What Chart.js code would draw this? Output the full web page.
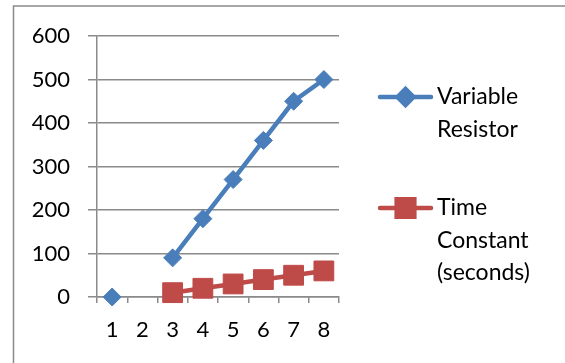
<!DOCTYPE html>
<html>
<head>
<meta charset="utf-8">
<script src="https://cdn.jsdelivr.net/npm/chart.js@4/dist/chart.umd.min.js"></script>
<style>
  html, body { margin: 0; padding: 0; background: #fff; }
  #wrap { width: 565px; height: 363px; position: relative; }
</style>
</head>
<body>
<div id="wrap"><canvas id="c"></canvas></div>
<script>
// Trial numbers and the two measured series
const categories = ['1', '2', '3', '4', '5', '6', '7', '8'];
const resistorValues = [0, null, 90, 180, 270, 360, 450, 500];
const timeConstantValues = [null, null, 10, 20, 30, 40, 50, 60];
const yTickValues = [0, 100, 200, 300, 400, 500, 600];
const resistorLabel = ['Variable', 'Resistor'];
const timeConstantLabel = ['Time', 'Constant', '(seconds)'];

const FONT = 'Lato, "Open Sans", sans-serif';
const GRID = '#8a8a8a';
const BLUE = '#4a7ebb';
const RED = '#be4b48';

// Outer frame (left and top edges only)
const framePlugin = {
  id: 'frame',
  beforeDraw(chart) {
    const ctx = chart.ctx;
    ctx.save();
    ctx.strokeStyle = GRID;
    ctx.lineWidth = 1.5;
    ctx.beginPath();
    ctx.moveTo(13.5, chart.height);
    ctx.lineTo(13.5, 6);
    ctx.lineTo(chart.width, 6);
    ctx.stroke();
    ctx.restore();
  }
};

// Legend with wrapped, multi-line entries on the right side
const sideLegendPlugin = {
  id: 'sideLegend',
  afterDraw(chart) {
    const ctx = chart.ctx;
    const rows = [97, 208];
    const lineGap = 32.5;
    ctx.save();
    chart.data.datasets.forEach((ds, i) => {
      const y = rows[i];
      ctx.strokeStyle = ds.borderColor;
      ctx.lineWidth = ds.borderWidth;
      ctx.lineCap = 'round';
      ctx.beginPath();
      ctx.moveTo(380, y);
      ctx.lineTo(431, y);
      ctx.stroke();
      ctx.fillStyle = ds.pointBackgroundColor;
      ctx.strokeStyle = ds.pointBorderColor;
      const opts = { pointStyle: ds.pointStyle, radius: ds.legendRadius, rotation: 0, borderWidth: 1 };
      if (Chart.helpers && Chart.helpers.drawPoint) {
        Chart.helpers.drawPoint(ctx, opts, 405.5, y);
      }
      ctx.fillStyle = '#000';
      ctx.font = '23px ' + FONT;
      ctx.textBaseline = 'middle';
      ctx.textAlign = 'left';
      ds.legendLines.forEach((t, k) => ctx.fillText(t, 437, y + k * lineGap));
    });
    ctx.restore();
  }
};

new Chart(document.getElementById('c'), {
  type: 'line',
  data: {
    labels: categories,
    datasets: [
      {
        label: resistorLabel.join(' '),
        legendLines: resistorLabel,
        data: resistorValues,
        borderColor: BLUE,
        backgroundColor: BLUE,
        pointBackgroundColor: BLUE,
        pointBorderColor: BLUE,
        borderWidth: 4.5,
        pointStyle: 'rectRot',
        pointRadius: 9,
        legendRadius: 8,
        pointBorderWidth: 1,
        tension: 0,
        spanGaps: false,
        clip: false
      },
      {
        label: timeConstantLabel.join(' '),
        legendLines: timeConstantLabel,
        data: timeConstantValues,
        borderColor: RED,
        backgroundColor: RED,
        pointBackgroundColor: RED,
        pointBorderColor: RED,
        borderWidth: 4.5,
        pointStyle: 'rect',
        pointRadius: 14,
        legendRadius: 12.5,
        pointBorderWidth: 1,
        tension: 0,
        spanGaps: false,
        clip: false
      }
    ]
  },
  options: {
    responsive: true,
    maintainAspectRatio: false,
    animation: false,
    devicePixelRatio: 1,
    layout: { padding: { left: 0, top: 36, right: 226, bottom: 0 } },
    plugins: {
      legend: { display: false },
      tooltip: { enabled: false }
    },
    scales: {
      x: {
        type: 'category',
        offset: true,
        grid: {
          offset: true,
          drawOnChartArea: false,
          drawTicks: true,
          tickLength: 6,
          color: GRID,
          lineWidth: 1.5
        },
        border: { display: true, color: GRID, width: 1.5 },
        ticks: {
          color: '#000',
          font: { family: FONT, size: 22 },
          padding: 14,
          maxRotation: 0,
          autoSkip: false
        },
        afterFit(scale) { scale.height = 66; }
      },
      y: {
        min: 0,
        max: 600,
        afterBuildTicks(scale) { scale.ticks = yTickValues.map(v => ({ value: v })); },
        grid: {
          drawTicks: true,
          tickLength: 9,
          color: GRID,
          lineWidth: 1.5
        },
        border: { display: true, color: GRID, width: 1.5 },
        ticks: {
          color: '#000',
          font: { family: FONT, size: 22 },
          padding: 18
        },
        afterFit(scale) { scale.width = 97; }
      }
    }
  },
  plugins: [framePlugin, sideLegendPlugin]
});
</script>
</body>
</html>
